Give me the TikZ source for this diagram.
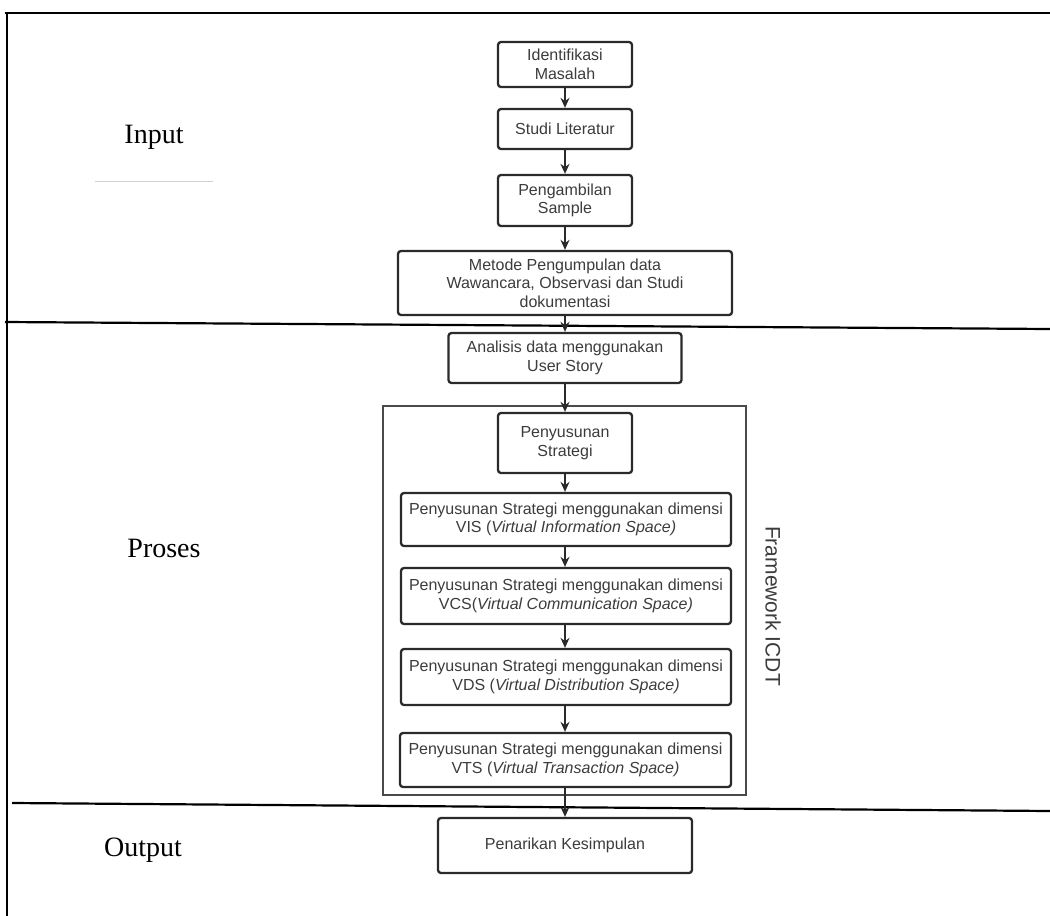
\documentclass[tikz,border=0pt]{standalone}
\usepackage{fontspec}
\setmainfont{Liberation Serif}
\setsansfont{Liberation Sans}
\usetikzlibrary{arrows.meta}
\definecolor{boxline}{HTML}{2A2A2A}
\definecolor{boxtext}{HTML}{3C3C3C}
\begin{document}
\begin{tikzpicture}[x=1pt,y=-1pt,
  flowbox/.style={draw=boxline, line width=2.3pt, rounded corners=3pt, align=center, inner sep=0pt,
    font=\sffamily\fontsize{16}{18.5}\selectfont, text=boxtext, anchor=center},
  flowarrow/.style={-{Stealth[length=10pt,width=9pt]}, line width=1.6pt, draw=boxline},
  sectionline/.style={line width=2.2pt, draw=black},
  sectionlabel/.style={font=\rmfamily\fontsize{28}{32}\selectfont, text=black, inner sep=0pt}]
\useasboundingbox (0,0) rectangle (1050,916);
\fill[white] (0,0) rectangle (1050,916);

% section borders
\draw[sectionline] (5,13) -- (1050,13);
\draw[sectionline] (7,13) -- (7,916);
\draw[sectionline] (5,322) -- (1050,329);
\draw[sectionline] (12,803) -- (1050,811);
\draw[gray!35, line width=1pt] (95,181) -- (213,181);

% section labels
\node[sectionlabel] (lin) at (154,137) {Input};
\node[sectionlabel] (lpr) at (164,548) {Proses};
\node[sectionlabel] (lout) at (143,850) {Output};

% framework container
\node[draw=boxline!85, line width=1.5pt, minimum width=363pt, minimum height=389pt, inner sep=0pt] (frame) at (564.5,600.5) {};
\node[rotate=-90, font=\sffamily\fontsize{21}{24}\selectfont, text=boxtext] (fw) at (773,606) {Framework ICDT};

% boxes
\node[flowbox, minimum width=134pt, minimum height=45pt] (id) at (565,64.5) {Identifikasi\\Masalah};
\node[flowbox, minimum width=134pt, minimum height=40pt] (sl) at (565,129) {Studi Literatur};
\node[flowbox, minimum width=134pt, minimum height=51pt] (ps) at (565,200.5) {Pengambilan\\Sample};
\node[flowbox, minimum width=334pt, minimum height=64pt] (mp) at (565,283) {Metode Pengumpulan data\\Wawancara, Observasi dan Studi\\dokumentasi};
\node[flowbox, minimum width=233pt, minimum height=50pt] (ad) at (565,358) {Analisis data menggunakan\\User Story};
\node[flowbox, minimum width=134pt, minimum height=60pt] (st) at (565,443) {Penyusunan\\Strategi};
\node[flowbox, minimum width=330pt, minimum height=53pt] (vis) at (566,519.5) {Penyusunan Strategi menggunakan dimensi\\VIS (\textit{Virtual Information Space)}};
\node[flowbox, minimum width=330pt, minimum height=56pt] (vcs) at (566,596) {Penyusunan Strategi menggunakan dimensi\\VCS(\textit{Virtual Communication Space)}};
\node[flowbox, minimum width=330pt, minimum height=56pt] (vds) at (566,677) {Penyusunan Strategi menggunakan dimensi\\VDS (\textit{Virtual Distribution Space)}};
\node[flowbox, minimum width=331pt, minimum height=54pt] (vts) at (565.5,760) {Penyusunan Strategi menggunakan dimensi\\VTS (\textit{Virtual Transaction Space)}};
\node[flowbox, minimum width=254pt, minimum height=55pt] (pk) at (565,845.5) {Penarikan Kesimpulan};

% connectors
\draw[flowarrow] (id.south) -- (id.south |- sl.north);
\draw[flowarrow] (sl.south) -- (sl.south |- ps.north);
\draw[flowarrow] (ps.south) -- (ps.south |- mp.north);
\draw[flowarrow] (mp.south) -- (mp.south |- ad.north);
\draw[flowarrow] (ad.south) -- (ad.south |- st.north);
\draw[flowarrow] (st.south) -- (st.south |- vis.north);
\draw[flowarrow] (vis.south -| st.south) -- (st.south |- vcs.north);
\draw[flowarrow] (vcs.south -| st.south) -- (st.south |- vds.north);
\draw[flowarrow] (vds.south -| st.south) -- (st.south |- vts.north);
\draw[flowarrow] (vts.south -| st.south) -- (st.south |- pk.north);
\end{tikzpicture}
\end{document}
